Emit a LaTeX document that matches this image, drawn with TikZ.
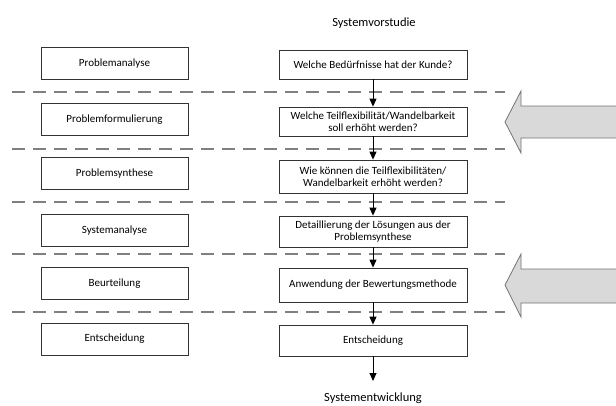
\documentclass[tikz,border=0pt]{standalone}
\usepackage{fontspec}
\setmainfont{Carlito}
\usetikzlibrary{arrows.meta, positioning}

\begin{document}
\begin{tikzpicture}[
        x=1pt, y=-1pt,
        box/.style={rectangle, draw=black!80, line width=0.8pt, minimum width=147pt, minimum height=32pt, inner sep=1pt, align=center, font=\fontsize{11}{12.5}\selectfont},
        wide/.style={box, minimum width=188pt},
        arrow/.style={-{Triangle[length=8pt, width=7pt]}, line width=0.9pt},
        sep/.style={draw=black!50, line width=1.2pt, dash pattern=on 13pt off 8pt},
        block/.style={fill=black!15, draw=black!55, line width=0.8pt},
        title/.style={font=\fontsize{12.5}{14}\selectfont, inner sep=0pt, anchor=base}
    ]
    \useasboundingbox (0,0) rectangle (616,405);

    % phase separators
    \foreach \y in {92, 149, 202, 254, 312}
        \draw [sep] (12,\y) -- (505,\y);

    \node (vorstudie) [title] at (374,26) {Systemvorstudie};

    % left column
    \node (analyse) [box] at (114.5,63.5) {Problemanalyse};
    \node (formul) [box] at (114.5,119.5) {Problemformulierung};
    \node (synth) [box] at (114.5,173.5) {Problemsynthese};
    \node (sysana) [box] at (114.5,230.5) {Systemanalyse};
    \node (beurt) [box] at (114.5,283.5) {Beurteilung};
    \node (entsch) [box] at (114.5,339) {Entscheidung};

    % right column
    \node (kunde) [wide, minimum height=29pt] at (373,64.5) {Welche Bedürfnisse hat der Kunde?};
    \node (teilflex) [wide, minimum height=29pt] at (373,121.5) {Welche Teilflexibilität/Wandelbarkeit \\ soll erhöht werden?};
    \node (erhoeh) [wide, minimum height=33pt] at (373,176.5) {Wie können die Teilflexibilitäten/ \\ Wandelbarkeit erhöht werden?};
    \node (detail) [wide, minimum height=31pt] at (373,231.5) {Detaillierung der Lösungen aus der \\ Problemsynthese};
    \node (bewert) [wide, minimum height=34pt] at (373,285) {Anwendung der Bewertungsmethode};
    \node (ergebnis) [wide, minimum height=31pt] at (373,340.5) {Entscheidung};
    \coordinate (ende) at (373,381);

    \node (entwicklung) [title] at (373,401) {Systementwicklung};

    \draw [arrow] (kunde) -- (teilflex);
    \draw [arrow] (teilflex) -- (erhoeh);
    \draw [arrow] (erhoeh) -- (detail);
    \draw [arrow] (detail) -- (bewert);
    \draw [arrow] (bewert) -- (ergebnis);
    \draw [arrow] (ergebnis) -- (ende);

    % block arrows on the right
    \draw [block] (618,106) -- (521,106) -- (521,91) -- (505,122) -- (521,153) -- (521,138) -- (618,138);
    \draw [block] (618,269) -- (521,269) -- (521,254) -- (505,285) -- (521,317) -- (521,303) -- (618,303);
    \end{tikzpicture}
\end{document}
